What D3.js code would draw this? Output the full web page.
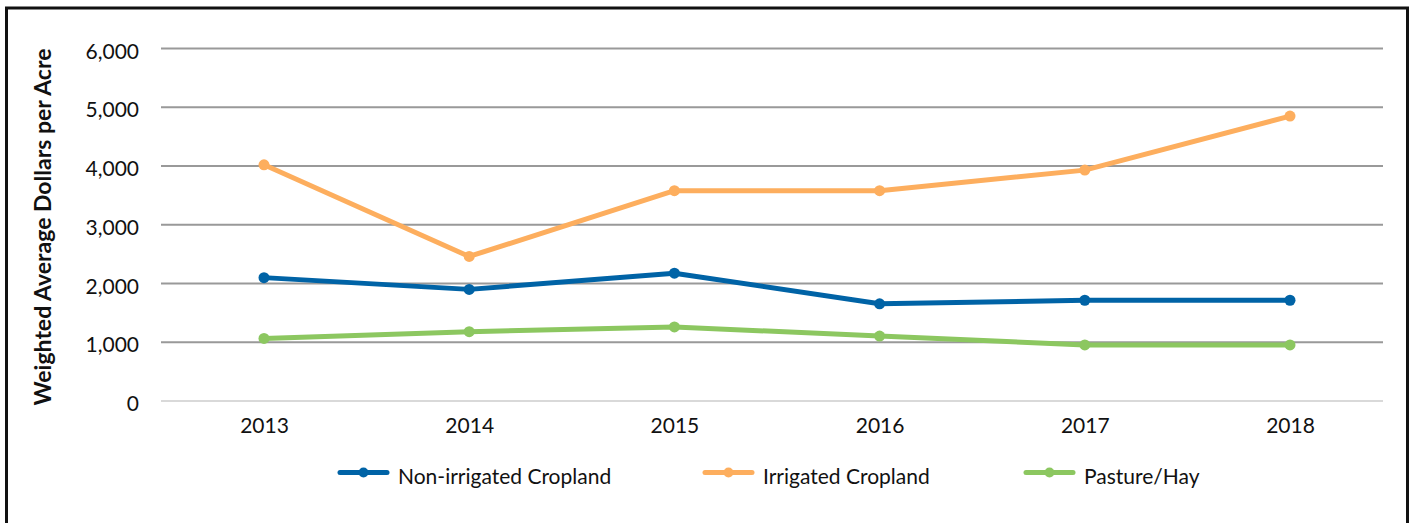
<!DOCTYPE html>
<html>
<head>
<meta charset="utf-8">
<script src="https://cdn.jsdelivr.net/npm/d3@7"></script>
<style>
  body { margin: 0; background: #fff; }
  svg { display: block; font-family: Lato, "Open Sans", sans-serif; }
</style>
</head>
<body>
<svg id="chart" width="1411" height="523"></svg>
<script>
const years = ["2013", "2014", "2015", "2016", "2017", "2018"];
const nonIrrigated = [2100, 1900, 2175, 1655, 1715, 1715];
const irrigated = [4020, 2460, 3580, 3580, 3930, 4850];
const pasture = [1065, 1180, 1260, 1105, 955, 955];
const yTicks = [0, 1000, 2000, 3000, 4000, 5000, 6000];

const seriesList = [
  { name: "Non-irrigated Cropland", values: nonIrrigated, color: "#0063a6" },
  { name: "Irrigated Cropland", values: irrigated, color: "#fdae5e" },
  { name: "Pasture/Hay", values: pasture, color: "#8cc760" },
];

const svg = d3.select("#chart");

// frame
svg.append("rect")
  .attr("x", 6.5).attr("y", 8)
  .attr("width", 1401).attr("height", 530)
  .attr("fill", "none")
  .attr("stroke", "#111")
  .attr("stroke-width", 3);

const plotLeft = 161, plotRight = 1383, plotTop = 48.5, plotBottom = 401;

// points sit at 263.7 ... 1289.7, spacing ~205
const xScale = d3.scalePoint().domain(years).range([264, 1290]);
const yScale = d3.scaleLinear().domain([0, 6000]).range([plotBottom, plotTop]);

// grid lines
svg.append("g")
  .selectAll("line")
  .data(yTicks)
  .join("line")
  .attr("x1", plotLeft).attr("x2", plotRight)
  .attr("y1", (d) => yScale(d)).attr("y2", (d) => yScale(d))
  .attr("stroke", (d) => (d === 0 ? "#d9d9d9" : "#999"))
  .attr("stroke-width", 2);

// y axis labels
const yAxis = d3.axisLeft(yScale)
  .tickValues(yTicks)
  .tickFormat(d3.format(","))
  .tickSize(0)
  .tickPadding(0);

svg.append("g")
  .attr("transform", `translate(139,3)`)
  .call(yAxis)
  .call((g) => g.select(".domain").remove())
  .selectAll("text")
  .attr("font-family", "Lato, sans-serif")
  .attr("font-size", 21)
  .attr("fill", "#111");

// x axis labels
const xAxis = d3.axisBottom(xScale).tickSize(0).tickPadding(0);
svg.append("g")
  .attr("transform", `translate(0,418)`)
  .call(xAxis)
  .call((g) => g.select(".domain").remove())
  .selectAll("text")
  .attr("font-family", "Lato, sans-serif")
  .attr("font-size", 21)
  .attr("fill", "#111");

// y axis title
svg.append("text")
  .attr("transform", "rotate(-90)")
  .attr("x", -227)
  .attr("y", 51)
  .attr("text-anchor", "middle")
  .attr("font-size", 23)
  .attr("font-weight", "bold")
  .attr("fill", "#111")
  .text("Weighted Average Dollars per Acre");

const line = d3.line()
  .x((d, i) => xScale(years[i]))
  .y((d) => yScale(d));

// lines and markers
seriesList.forEach((s) => {
  svg.append("path")
    .datum(s.values)
    .attr("d", line)
    .attr("fill", "none")
    .attr("stroke", s.color)
    .attr("stroke-width", 5)
    .attr("stroke-linejoin", "round");

  svg.append("g")
    .selectAll("circle")
    .data(s.values)
    .join("circle")
    .attr("cx", (d, i) => xScale(years[i]))
    .attr("cy", (d) => yScale(d))
    .attr("r", 5.5)
    .attr("fill", s.color);
});

// legend
const legendX = [340, 705, 1026];
const legend = svg.append("g")
  .selectAll("g")
  .data(seriesList)
  .join("g")
  .attr("transform", (d, i) => `translate(${legendX[i]},472.5)`);

legend.append("line")
  .attr("x1", 0).attr("x2", 47)
  .attr("stroke", (d) => d.color)
  .attr("stroke-width", 5)
  .attr("stroke-linecap", "round");

legend.append("circle")
  .attr("cx", 23.5).attr("r", 5)
  .attr("fill", (d) => d.color);

legend.append("text")
  .attr("x", 58)
  .attr("y", 4)
  .attr("dy", "0.35em")
  .attr("font-size", 21)
  .attr("fill", "#111")
  .text((d) => d.name);
</script>
</body>
</html>
